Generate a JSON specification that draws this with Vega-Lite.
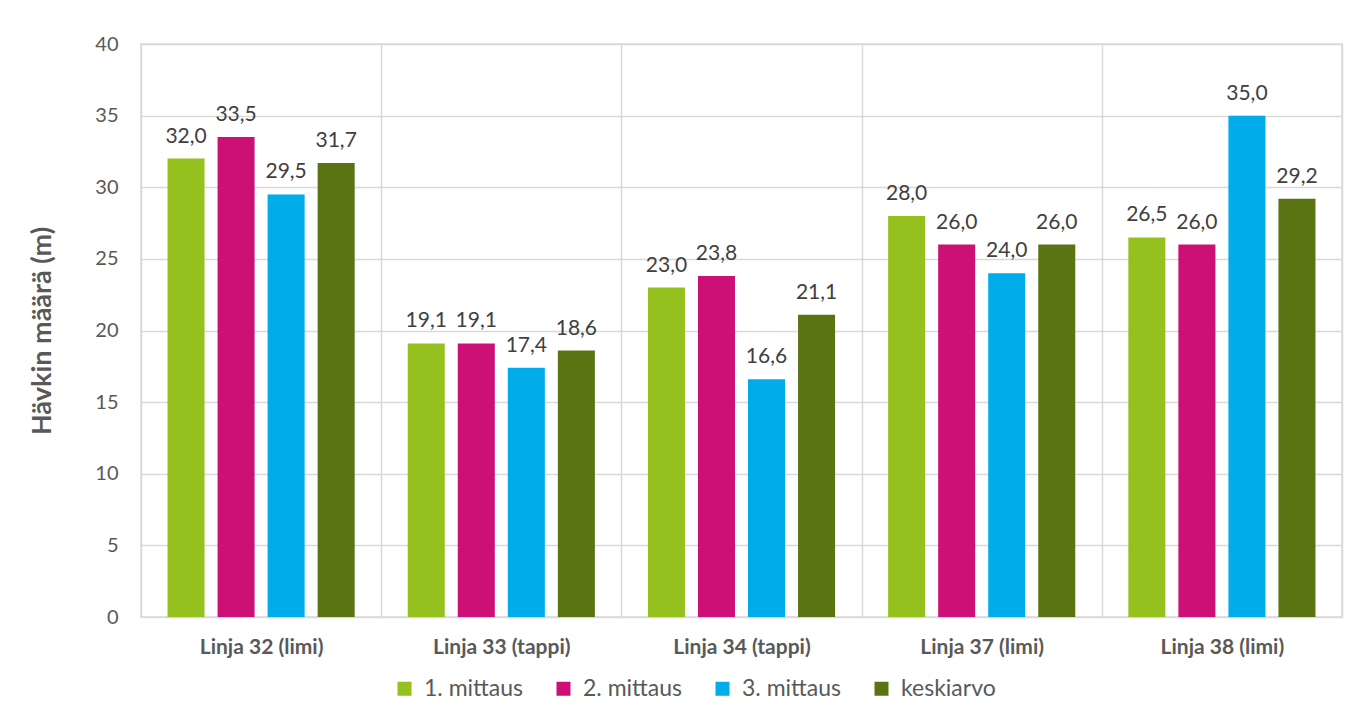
{
  "$schema": "https://vega.github.io/schema/vega-lite/v6.json",
  "autosize": {"type": "none"},
  "padding": {"left": 141, "top": 44, "right": 17, "bottom": 95},
  "width": 1201,
  "height": 573,
  "background": "white",
  "config": {
    "font": "Lato",
    "locale": {"number": {"decimal": ",", "thousands": " ", "grouping": [3], "currency": ["", " €"]}},
    "view": {"stroke": "#d9d9d9", "strokeWidth": 1.5}
  },
  "data": {
    "values": [
      {"linja": "Linja 32 (limi)", "sarja": "1. mittaus", "arvo": 32.0},
      {"linja": "Linja 32 (limi)", "sarja": "2. mittaus", "arvo": 33.5},
      {"linja": "Linja 32 (limi)", "sarja": "3. mittaus", "arvo": 29.5},
      {"linja": "Linja 32 (limi)", "sarja": "keskiarvo", "arvo": 31.7},
      {"linja": "Linja 33 (tappi)", "sarja": "1. mittaus", "arvo": 19.1},
      {"linja": "Linja 33 (tappi)", "sarja": "2. mittaus", "arvo": 19.1},
      {"linja": "Linja 33 (tappi)", "sarja": "3. mittaus", "arvo": 17.4},
      {"linja": "Linja 33 (tappi)", "sarja": "keskiarvo", "arvo": 18.6},
      {"linja": "Linja 34 (tappi)", "sarja": "1. mittaus", "arvo": 23.0},
      {"linja": "Linja 34 (tappi)", "sarja": "2. mittaus", "arvo": 23.8},
      {"linja": "Linja 34 (tappi)", "sarja": "3. mittaus", "arvo": 16.6},
      {"linja": "Linja 34 (tappi)", "sarja": "keskiarvo", "arvo": 21.1},
      {"linja": "Linja 37 (limi)", "sarja": "1. mittaus", "arvo": 28.0},
      {"linja": "Linja 37 (limi)", "sarja": "2. mittaus", "arvo": 26.0},
      {"linja": "Linja 37 (limi)", "sarja": "3. mittaus", "arvo": 24.0},
      {"linja": "Linja 37 (limi)", "sarja": "keskiarvo", "arvo": 26.0},
      {"linja": "Linja 38 (limi)", "sarja": "1. mittaus", "arvo": 26.5},
      {"linja": "Linja 38 (limi)", "sarja": "2. mittaus", "arvo": 26.0},
      {"linja": "Linja 38 (limi)", "sarja": "3. mittaus", "arvo": 35.0},
      {"linja": "Linja 38 (limi)", "sarja": "keskiarvo", "arvo": 29.2}
    ]
  },
  "encoding": {
    "x": {
      "field": "linja", "type": "nominal", "sort": null,
      "scale": {"paddingInner": 0, "paddingOuter": 0},
      "axis": {
        "title": null, "labelAngle": 0, "labelFontSize": 21, "labelFontWeight": "bold",
        "labelColor": "#595959", "labelPadding": 19, "ticks": false, "domain": false,
        "grid": true, "tickBand": "extent", "gridColor": "#d9d9d9", "gridWidth": 1.5
      }
    },
    "xOffset": {
      "field": "sarja", "type": "nominal",
      "scale": {"paddingInner": 0.26, "paddingOuter": 0.53}
    },
    "y": {
      "field": "arvo", "type": "quantitative",
      "scale": {"domain": [0, 40], "nice": false},
      "axis": {
        "title": "Hävkin määrä (m)", "titleFontSize": 27, "titleFontWeight": "bold",
        "titleColor": "#595959", "titleX": -99, "titleBaseline": "middle",
        "values": [0, 5, 10, 15, 20, 25, 30, 35, 40], "format": "d",
        "labelFontSize": 20, "labelColor": "#595959", "labelPadding": 23,
        "ticks": false, "domain": false, "gridColor": "#d9d9d9", "gridWidth": 1.5
      }
    }
  },
  "layer": [
    {
      "mark": {"type": "bar"},
      "encoding": {
        "color": {
          "field": "sarja", "type": "nominal",
          "scale": {
            "domain": ["1. mittaus", "2. mittaus", "3. mittaus", "keskiarvo"],
            "range": ["#95c11f", "#cd1076", "#00ace9", "#5a7414"]
          },
          "legend": {
            "title": null, "orient": "none", "direction": "horizontal",
            "legendX": 252, "legendY": 633, "padding": 0,
            "symbolType": "square", "symbolSize": 196, "symbolStrokeWidth": 0,
            "labelFontSize": 23, "labelColor": "#595959", "labelOffset": 8,
            "columnPadding": 28
          }
        }
      }
    },
    {
      "mark": {"type": "text", "baseline": "alphabetic", "dy": -16, "fontSize": 21, "color": "#404040"},
      "encoding": {
        "text": {"field": "arvo", "type": "quantitative", "format": ".1f"}
      }
    }
  ]
}
